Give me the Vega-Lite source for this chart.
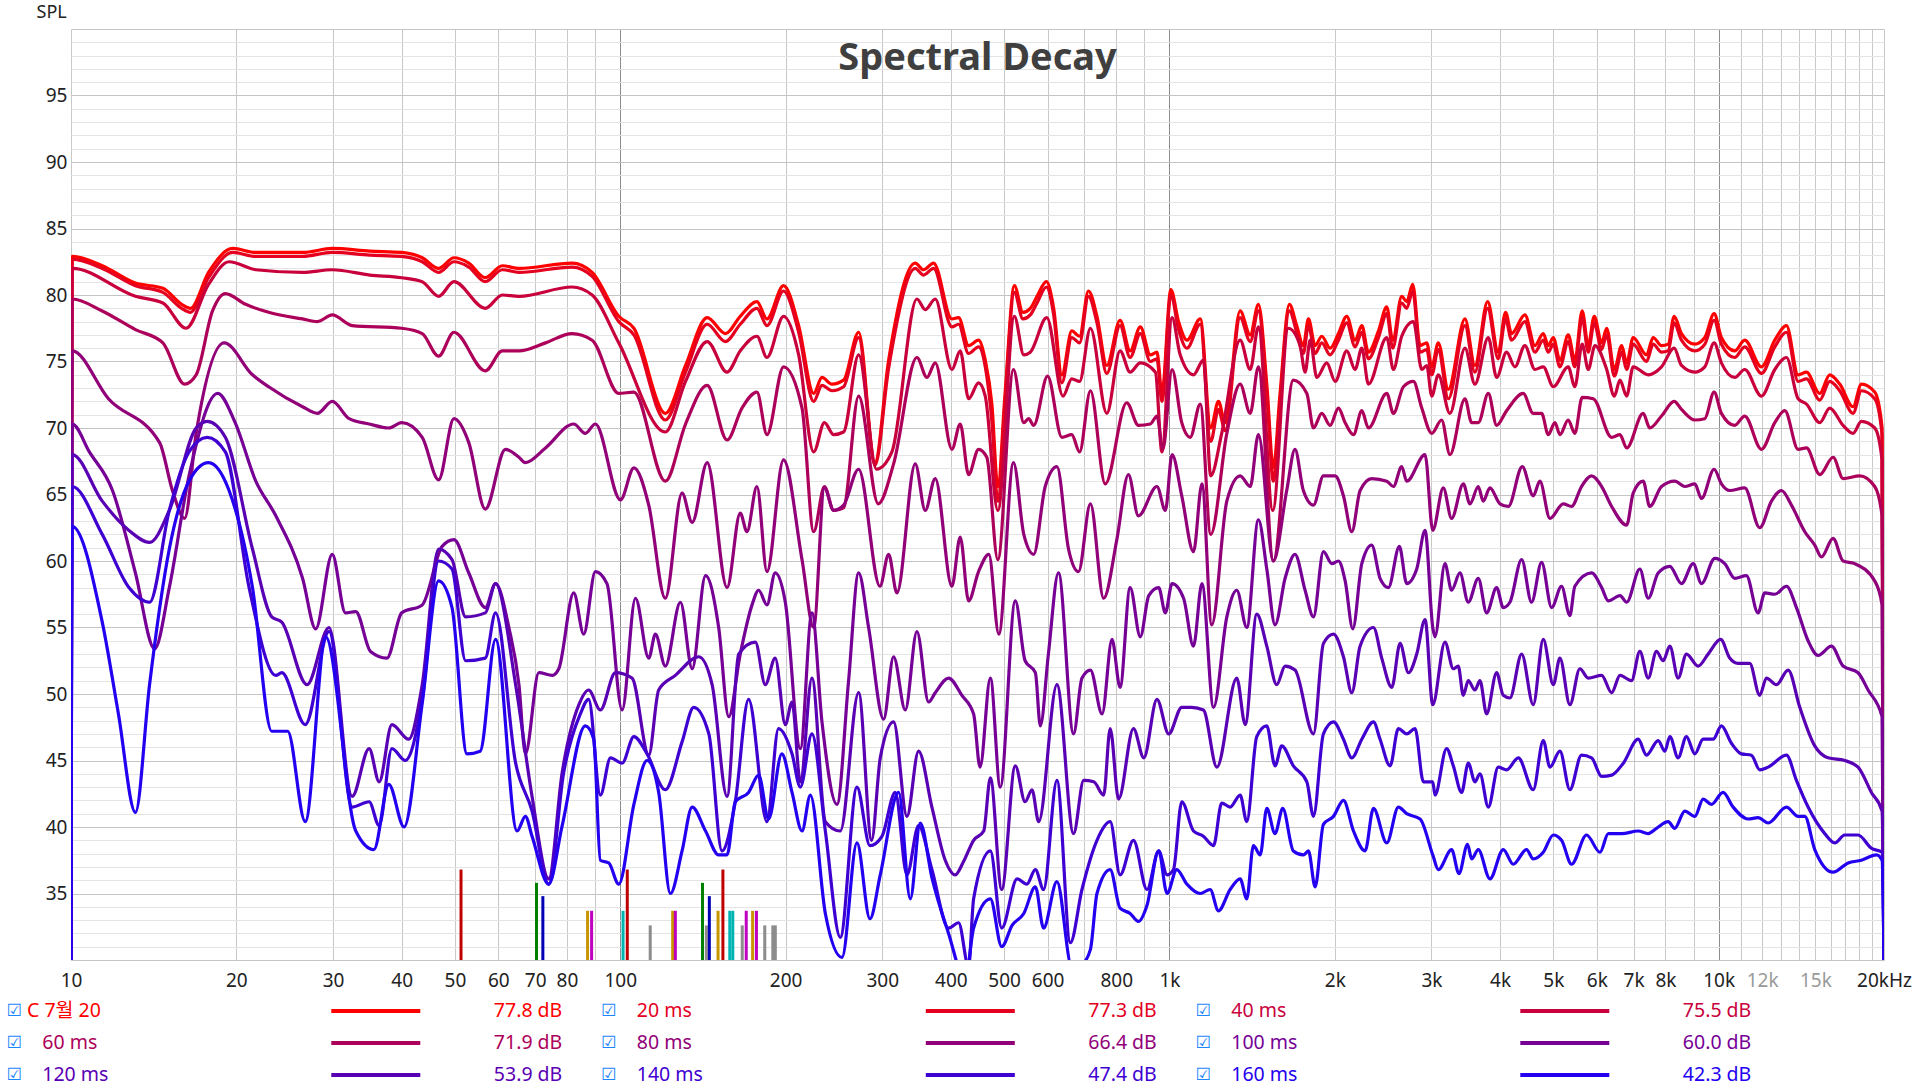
{
  "$schema": "https://vega.github.io/schema/vega-lite/v6.json",
  "background": "#ffffff",
  "padding": {"left": 6, "top": 3, "right": 4, "bottom": 12},
  "autosize": {"type": "pad"},
  "config": {"view": {"stroke": null}, "font": "Noto Sans", "axis": {"labelOverlap": false}},
  "spacing": 51,
  "bounds": "flush",
  "datasets": {
    "curves": [
{"t":0,"f":10,"v":30},{"t":0,"f":10.05,"v":82.9},{"t":0,"f":11.4,"v":82.2},{"t":0,"f":13.1,"v":80.9},{"t":0,"f":14.7,"v":80.5},{"t":0,"f":15.9,"v":79.3},{"t":0,"f":16.5,"v":79.0},{"t":0,"f":17.8,"v":81.7},{"t":0,"f":19.7,"v":83.5},{"t":0,"f":21.7,"v":83.2},{"t":0,"f":26.4,"v":83.2},{"t":0,"f":29.9,"v":83.5},{"t":0,"f":35,"v":83.3},{"t":0,"f":40,"v":83.2},{"t":0,"f":43.6,"v":82.8},{"t":0,"f":46.7,"v":82.0},{"t":0,"f":49.8,"v":82.8},{"t":0,"f":53,"v":82.4},{"t":0,"f":56.8,"v":81.3},{"t":0,"f":61,"v":82.2},{"t":0,"f":65.4,"v":82.0},{"t":0,"f":81.7,"v":82.4},{"t":0,"f":88.9,"v":81.7},{"t":0,"f":99.4,"v":78.4},{"t":0,"f":105.9,"v":77.5},{"t":0,"f":120.8,"v":71.1},{"t":0,"f":131.5,"v":74.7},{"t":0,"f":144,"v":78.3},{"t":0,"f":155.4,"v":77.1},{"t":0,"f":165.4,"v":78.4},{"t":0,"f":177.4,"v":79.5},{"t":0,"f":185,"v":78.2},{"t":0,"f":198.3,"v":80.7},{"t":0,"f":211.3,"v":77.7},{"t":0,"f":225,"v":72.6},{"t":0,"f":233,"v":73.8},{"t":0,"f":243,"v":73.3},{"t":0,"f":255.1,"v":73.6},{"t":0,"f":271.7,"v":77.2},{"t":0,"f":290.9,"v":67.4},{"t":0,"f":308.1,"v":75.1},{"t":0,"f":344.5,"v":82.4},{"t":0,"f":356.7,"v":81.9},{"t":0,"f":372,"v":82.4},{"t":0,"f":401.7,"v":78.2},{"t":0,"f":413.1,"v":78.3},{"t":0,"f":430.8,"v":76.2},{"t":0,"f":449.2,"v":76.6},{"t":0,"f":462,"v":75.1},{"t":0,"f":475,"v":71.8},{"t":0,"f":487,"v":65.6},{"t":0,"f":502,"v":72.6},{"t":0,"f":522,"v":80.7},{"t":0,"f":541,"v":78.7},{"t":0,"f":558,"v":79.0},{"t":0,"f":574,"v":79.9},{"t":0,"f":597,"v":81.0},{"t":0,"f":615,"v":79.1},{"t":0,"f":637,"v":74.0},{"t":0,"f":664,"v":77.3},{"t":0,"f":686,"v":76.9},{"t":0,"f":712,"v":80.3},{"t":0,"f":738,"v":78.4},{"t":0,"f":769,"v":74.7},{"t":0,"f":813,"v":78.1},{"t":0,"f":848,"v":75.8},{"t":0,"f":885,"v":77.6},{"t":0,"f":923,"v":75.5},{"t":0,"f":949,"v":75.7},{"t":0,"f":969,"v":72.6},{"t":0,"f":1006,"v":80.4},{"t":0,"f":1039,"v":78.0},{"t":0,"f":1076,"v":76.6},{"t":0,"f":1138,"v":78.2},{"t":0,"f":1189,"v":70.0},{"t":0,"f":1228,"v":72.0},{"t":0,"f":1263,"v":70.4},{"t":0,"f":1345,"v":78.8},{"t":0,"f":1403,"v":77.0},{"t":0,"f":1452,"v":79.3},{"t":0,"f":1504,"v":73.3},{"t":0,"f":1546,"v":67.0},{"t":0,"f":1590,"v":72.6},{"t":0,"f":1653,"v":79.3},{"t":0,"f":1705,"v":77.7},{"t":0,"f":1753,"v":76.2},{"t":0,"f":1791,"v":78.2},{"t":0,"f":1842,"v":76.2},{"t":0,"f":1894,"v":76.9},{"t":0,"f":1961,"v":76.0},{"t":0,"f":2031,"v":77.1},{"t":0,"f":2103,"v":78.4},{"t":0,"f":2178,"v":76.6},{"t":0,"f":2240,"v":77.7},{"t":0,"f":2303,"v":75.7},{"t":0,"f":2402,"v":77.3},{"t":0,"f":2487,"v":79.1},{"t":0,"f":2550,"v":76.6},{"t":0,"f":2648,"v":79.9},{"t":0,"f":2704,"v":79.5},{"t":0,"f":2773,"v":80.8},{"t":0,"f":2860,"v":76.2},{"t":0,"f":2941,"v":76.4},{"t":0,"f":3003,"v":74.6},{"t":0,"f":3087,"v":76.4},{"t":0,"f":3219,"v":72.9},{"t":0,"f":3452,"v":78.2},{"t":0,"f":3599,"v":74.7},{"t":0,"f":3796,"v":79.5},{"t":0,"f":3969,"v":75.7},{"t":0,"f":4092,"v":78.7},{"t":0,"f":4197,"v":77.1},{"t":0,"f":4438,"v":78.5},{"t":0,"f":4628,"v":76.2},{"t":0,"f":4793,"v":77.1},{"t":0,"f":4895,"v":76.2},{"t":0,"f":4999,"v":76.8},{"t":0,"f":5140,"v":75.1},{"t":0,"f":5322,"v":77.0},{"t":0,"f":5472,"v":75.1},{"t":0,"f":5643,"v":78.8},{"t":0,"f":5787,"v":76.2},{"t":0,"f":5935,"v":78.4},{"t":0,"f":6123,"v":76.4},{"t":0,"f":6253,"v":77.5},{"t":0,"f":6457,"v":74.4},{"t":0,"f":6659,"v":76.2},{"t":0,"f":6799,"v":74.9},{"t":0,"f":6988,"v":76.8},{"t":0,"f":7390,"v":75.5},{"t":0,"f":7598,"v":76.8},{"t":0,"f":7869,"v":76.2},{"t":0,"f":8092,"v":76.3},{"t":0,"f":8298,"v":78.4},{"t":0,"f":8556,"v":77.1},{"t":0,"f":9049,"v":76.3},{"t":0,"f":9435,"v":76.8},{"t":0,"f":9811,"v":78.6},{"t":0,"f":10115,"v":76.8},{"t":0,"f":10696,"v":75.8},{"t":0,"f":11154,"v":76.6},{"t":0,"f":11965,"v":74.6},{"t":0,"f":12653,"v":76.6},{"t":0,"f":13287,"v":77.7},{"t":0,"f":13953,"v":74.0},{"t":0,"f":14449,"v":74.2},{"t":0,"f":15278,"v":72.6},{"t":0,"f":15932,"v":74.0},{"t":0,"f":16614,"v":73.3},{"t":0,"f":17566,"v":71.6},{"t":0,"f":18192,"v":73.3},{"t":0,"f":19238,"v":72.7},{"t":0,"f":19838,"v":70.0},{"t":0,"f":20000,"v":30},
{"t":20,"f":10,"v":30},{"t":20,"f":10.05,"v":82.7},{"t":20,"f":11.4,"v":82.0},{"t":20,"f":13.1,"v":80.7},{"t":20,"f":14.7,"v":80.2},{"t":20,"f":15.9,"v":79.0},{"t":20,"f":16.5,"v":78.7},{"t":20,"f":17.8,"v":81.3},{"t":20,"f":19.7,"v":83.2},{"t":20,"f":21.7,"v":82.9},{"t":20,"f":26.4,"v":82.9},{"t":20,"f":29.9,"v":83.2},{"t":20,"f":35,"v":83.0},{"t":20,"f":40,"v":82.9},{"t":20,"f":43.6,"v":82.5},{"t":20,"f":46.7,"v":81.7},{"t":20,"f":49.8,"v":82.5},{"t":20,"f":53,"v":82.1},{"t":20,"f":56.8,"v":81.0},{"t":20,"f":61,"v":81.9},{"t":20,"f":65.4,"v":81.7},{"t":20,"f":81.7,"v":82.1},{"t":20,"f":88.9,"v":81.4},{"t":20,"f":99.4,"v":78.0},{"t":20,"f":105.9,"v":77.0},{"t":20,"f":120.8,"v":70.6},{"t":20,"f":131.5,"v":74.2},{"t":20,"f":144,"v":77.8},{"t":20,"f":155.4,"v":76.5},{"t":20,"f":165.4,"v":77.8},{"t":20,"f":177.4,"v":79.0},{"t":20,"f":185,"v":77.7},{"t":20,"f":198.3,"v":80.3},{"t":20,"f":211.3,"v":77.2},{"t":20,"f":225,"v":72.0},{"t":20,"f":233,"v":73.2},{"t":20,"f":243,"v":72.8},{"t":20,"f":255.1,"v":73.1},{"t":20,"f":271.7,"v":76.8},{"t":20,"f":290.9,"v":67.2},{"t":20,"f":308.1,"v":74.5},{"t":20,"f":344.5,"v":82.0},{"t":20,"f":356.7,"v":81.5},{"t":20,"f":372,"v":82.0},{"t":20,"f":401.7,"v":77.6},{"t":20,"f":413.1,"v":77.8},{"t":20,"f":430.8,"v":75.6},{"t":20,"f":449.2,"v":76.1},{"t":20,"f":462,"v":74.6},{"t":20,"f":475,"v":70.5},{"t":20,"f":487,"v":64.5},{"t":20,"f":502,"v":72.0},{"t":20,"f":522,"v":80.2},{"t":20,"f":541,"v":78.2},{"t":20,"f":558,"v":78.5},{"t":20,"f":574,"v":79.4},{"t":20,"f":597,"v":80.6},{"t":20,"f":615,"v":78.6},{"t":20,"f":637,"v":73.4},{"t":20,"f":664,"v":76.8},{"t":20,"f":686,"v":76.4},{"t":20,"f":712,"v":79.9},{"t":20,"f":738,"v":77.9},{"t":20,"f":769,"v":74.1},{"t":20,"f":813,"v":77.7},{"t":20,"f":848,"v":75.3},{"t":20,"f":885,"v":77.1},{"t":20,"f":923,"v":75.0},{"t":20,"f":949,"v":75.2},{"t":20,"f":969,"v":72.0},{"t":20,"f":1006,"v":80.0},{"t":20,"f":1039,"v":77.4},{"t":20,"f":1076,"v":76.0},{"t":20,"f":1138,"v":77.8},{"t":20,"f":1189,"v":69.0},{"t":20,"f":1228,"v":71.4},{"t":20,"f":1263,"v":69.8},{"t":20,"f":1345,"v":78.3},{"t":20,"f":1403,"v":76.5},{"t":20,"f":1452,"v":78.8},{"t":20,"f":1504,"v":72.6},{"t":20,"f":1546,"v":66.0},{"t":20,"f":1590,"v":72.0},{"t":20,"f":1653,"v":78.8},{"t":20,"f":1705,"v":77.2},{"t":20,"f":1753,"v":75.6},{"t":20,"f":1791,"v":77.7},{"t":20,"f":1842,"v":75.6},{"t":20,"f":1894,"v":76.4},{"t":20,"f":1961,"v":75.5},{"t":20,"f":2031,"v":76.6},{"t":20,"f":2103,"v":77.9},{"t":20,"f":2178,"v":76.1},{"t":20,"f":2240,"v":77.2},{"t":20,"f":2303,"v":75.2},{"t":20,"f":2402,"v":76.8},{"t":20,"f":2487,"v":78.6},{"t":20,"f":2550,"v":76.0},{"t":20,"f":2648,"v":79.4},{"t":20,"f":2704,"v":79.0},{"t":20,"f":2773,"v":80.3},{"t":20,"f":2860,"v":75.7},{"t":20,"f":2941,"v":75.9},{"t":20,"f":3003,"v":74.0},{"t":20,"f":3087,"v":75.9},{"t":20,"f":3219,"v":72.2},{"t":20,"f":3452,"v":77.7},{"t":20,"f":3599,"v":74.2},{"t":20,"f":3796,"v":79.0},{"t":20,"f":3969,"v":75.2},{"t":20,"f":4092,"v":78.2},{"t":20,"f":4197,"v":76.6},{"t":20,"f":4438,"v":78.0},{"t":20,"f":4628,"v":75.7},{"t":20,"f":4793,"v":76.6},{"t":20,"f":4895,"v":75.7},{"t":20,"f":4999,"v":76.3},{"t":20,"f":5140,"v":74.6},{"t":20,"f":5322,"v":76.5},{"t":20,"f":5472,"v":74.6},{"t":20,"f":5643,"v":78.3},{"t":20,"f":5787,"v":75.7},{"t":20,"f":5935,"v":77.9},{"t":20,"f":6123,"v":75.9},{"t":20,"f":6253,"v":77.0},{"t":20,"f":6457,"v":73.9},{"t":20,"f":6659,"v":75.7},{"t":20,"f":6799,"v":74.4},{"t":20,"f":6988,"v":76.3},{"t":20,"f":7390,"v":75.0},{"t":20,"f":7598,"v":76.3},{"t":20,"f":7869,"v":75.7},{"t":20,"f":8092,"v":75.8},{"t":20,"f":8298,"v":77.9},{"t":20,"f":8556,"v":76.6},{"t":20,"f":9049,"v":75.8},{"t":20,"f":9435,"v":76.3},{"t":20,"f":9811,"v":78.1},{"t":20,"f":10115,"v":76.3},{"t":20,"f":10696,"v":75.3},{"t":20,"f":11154,"v":76.1},{"t":20,"f":11965,"v":74.1},{"t":20,"f":12653,"v":76.1},{"t":20,"f":13287,"v":77.2},{"t":20,"f":13953,"v":73.5},{"t":20,"f":14449,"v":73.7},{"t":20,"f":15278,"v":72.1},{"t":20,"f":15932,"v":73.5},{"t":20,"f":16614,"v":72.8},{"t":20,"f":17566,"v":71.1},{"t":20,"f":18192,"v":72.8},{"t":20,"f":19238,"v":72.2},{"t":20,"f":19838,"v":69.5},{"t":20,"f":20000,"v":30},
{"t":40,"f":10,"v":30},{"t":40,"f":10.05,"v":82.0},{"t":40,"f":13.1,"v":79.9},{"t":40,"f":14.7,"v":79.4},{"t":40,"f":16.2,"v":77.5},{"t":40,"f":17.8,"v":80.8},{"t":40,"f":19.4,"v":82.5},{"t":40,"f":21.7,"v":81.9},{"t":40,"f":26.4,"v":81.7},{"t":40,"f":29.9,"v":81.9},{"t":40,"f":35,"v":81.5},{"t":40,"f":40,"v":81.3},{"t":40,"f":43.6,"v":81.0},{"t":40,"f":46.7,"v":79.9},{"t":40,"f":49.8,"v":81.0},{"t":40,"f":56.8,"v":79.0},{"t":40,"f":61,"v":80.0},{"t":40,"f":65.4,"v":79.9},{"t":40,"f":81.7,"v":80.6},{"t":40,"f":88.9,"v":80.0},{"t":40,"f":99.4,"v":76.4},{"t":40,"f":120.8,"v":69.7},{"t":40,"f":131.5,"v":73.5},{"t":40,"f":144,"v":76.5},{"t":40,"f":156.5,"v":74.2},{"t":40,"f":165.4,"v":75.8},{"t":40,"f":177.4,"v":76.9},{"t":40,"f":185,"v":75.3},{"t":40,"f":198.3,"v":78.4},{"t":40,"f":211.3,"v":75.5},{"t":40,"f":225,"v":68.2},{"t":40,"f":235.4,"v":70.4},{"t":40,"f":244.7,"v":69.5},{"t":40,"f":255.1,"v":69.7},{"t":40,"f":271.7,"v":75.5},{"t":40,"f":292.9,"v":66.9},{"t":40,"f":312.4,"v":68.2},{"t":40,"f":346.9,"v":79.7},{"t":40,"f":359.2,"v":78.9},{"t":40,"f":374.6,"v":79.7},{"t":40,"f":401.7,"v":74.4},{"t":40,"f":416,"v":75.8},{"t":40,"f":430.8,"v":72.2},{"t":40,"f":449.2,"v":73.4},{"t":40,"f":462,"v":72.4},{"t":40,"f":487,"v":63.8},{"t":40,"f":522,"v":78.4},{"t":40,"f":543,"v":75.5},{"t":40,"f":558,"v":75.7},{"t":40,"f":598,"v":78.3},{"t":40,"f":640,"v":72.4},{"t":40,"f":664,"v":73.7},{"t":40,"f":686,"v":73.5},{"t":40,"f":718,"v":77.5},{"t":40,"f":769,"v":71.1},{"t":40,"f":813,"v":75.8},{"t":40,"f":848,"v":74.2},{"t":40,"f":885,"v":74.9},{"t":40,"f":943,"v":74.2},{"t":40,"f":969,"v":68.2},{"t":40,"f":1011,"v":78.3},{"t":40,"f":1046,"v":75.5},{"t":40,"f":1106,"v":74.0},{"t":40,"f":1153,"v":75.1},{"t":40,"f":1189,"v":66.4},{"t":40,"f":1245,"v":69.6},{"t":40,"f":1345,"v":76.6},{"t":40,"f":1403,"v":74.4},{"t":40,"f":1452,"v":77.6},{"t":40,"f":1542,"v":63.8},{"t":40,"f":1646,"v":77.5},{"t":40,"f":1729,"v":76.2},{"t":40,"f":1766,"v":74.2},{"t":40,"f":1804,"v":76.6},{"t":40,"f":1855,"v":73.8},{"t":40,"f":1934,"v":74.9},{"t":40,"f":2003,"v":73.5},{"t":40,"f":2103,"v":75.8},{"t":40,"f":2178,"v":74.4},{"t":40,"f":2240,"v":76.0},{"t":40,"f":2303,"v":73.3},{"t":40,"f":2487,"v":76.8},{"t":40,"f":2557,"v":74.4},{"t":40,"f":2648,"v":76.9},{"t":40,"f":2781,"v":78.0},{"t":40,"f":2880,"v":74.4},{"t":40,"f":2941,"v":74.7},{"t":40,"f":3003,"v":72.4},{"t":40,"f":3087,"v":74.0},{"t":40,"f":3241,"v":71.1},{"t":40,"f":3452,"v":76.0},{"t":40,"f":3599,"v":73.3},{"t":40,"f":3807,"v":76.8},{"t":40,"f":3942,"v":73.8},{"t":40,"f":4110,"v":75.7},{"t":40,"f":4256,"v":74.6},{"t":40,"f":4438,"v":76.2},{"t":40,"f":4628,"v":74.4},{"t":40,"f":4793,"v":74.6},{"t":40,"f":4999,"v":73.1},{"t":40,"f":5322,"v":74.6},{"t":40,"f":5472,"v":73.1},{"t":40,"f":5643,"v":76.3},{"t":40,"f":5787,"v":74.4},{"t":40,"f":5954,"v":76.2},{"t":40,"f":6253,"v":74.4},{"t":40,"f":6457,"v":72.4},{"t":40,"f":6612,"v":73.6},{"t":40,"f":6799,"v":72.4},{"t":40,"f":6988,"v":74.6},{"t":40,"f":7442,"v":74.0},{"t":40,"f":7869,"v":74.6},{"t":40,"f":8298,"v":76.0},{"t":40,"f":8556,"v":74.7},{"t":40,"f":9049,"v":74.2},{"t":40,"f":9435,"v":74.6},{"t":40,"f":9811,"v":76.4},{"t":40,"f":10115,"v":74.9},{"t":40,"f":10696,"v":73.8},{"t":40,"f":11154,"v":74.4},{"t":40,"f":11965,"v":72.4},{"t":40,"f":12653,"v":74.4},{"t":40,"f":13287,"v":75.3},{"t":40,"f":13953,"v":72.2},{"t":40,"f":14449,"v":71.8},{"t":40,"f":15278,"v":70.4},{"t":40,"f":15932,"v":71.5},{"t":40,"f":16847,"v":70.2},{"t":40,"f":17566,"v":69.6},{"t":40,"f":18192,"v":70.5},{"t":40,"f":19238,"v":70.0},{"t":40,"f":19838,"v":67.6},{"t":40,"f":20000,"v":30},
{"t":60,"f":10,"v":30},{"t":60,"f":10.05,"v":79.7},{"t":60,"f":11.4,"v":78.8},{"t":60,"f":13.1,"v":77.4},{"t":60,"f":14.7,"v":76.4},{"t":60,"f":16.1,"v":73.3},{"t":60,"f":16.9,"v":74.0},{"t":60,"f":18.1,"v":78.8},{"t":60,"f":19.1,"v":80.1},{"t":60,"f":20.8,"v":79.3},{"t":60,"f":22.9,"v":78.7},{"t":60,"f":26.4,"v":78.2},{"t":60,"f":28.1,"v":78.0},{"t":60,"f":29.9,"v":78.5},{"t":60,"f":32.5,"v":77.7},{"t":60,"f":40,"v":77.5},{"t":60,"f":43.6,"v":77.1},{"t":60,"f":46.7,"v":75.4},{"t":60,"f":49.8,"v":77.2},{"t":60,"f":56.8,"v":74.3},{"t":60,"f":61,"v":75.8},{"t":60,"f":65.4,"v":75.8},{"t":60,"f":73.1,"v":76.4},{"t":60,"f":81.7,"v":77.1},{"t":60,"f":88.9,"v":76.6},{"t":60,"f":99.4,"v":72.6},{"t":60,"f":105.9,"v":72.7},{"t":60,"f":120.8,"v":66.0},{"t":60,"f":131.5,"v":70.3},{"t":60,"f":144,"v":73.2},{"t":60,"f":156.5,"v":69.1},{"t":60,"f":166.6,"v":71.5},{"t":60,"f":177.4,"v":72.7},{"t":60,"f":185,"v":69.5},{"t":60,"f":198.3,"v":74.6},{"t":60,"f":214.3,"v":71.5},{"t":60,"f":225,"v":62.2},{"t":60,"f":235.4,"v":65.6},{"t":60,"f":244.7,"v":63.8},{"t":60,"f":255.1,"v":64.0},{"t":60,"f":271.7,"v":72.4},{"t":60,"f":295,"v":64.3},{"t":60,"f":314.6,"v":67.3},{"t":60,"f":346.9,"v":75.3},{"t":60,"f":361.8,"v":73.8},{"t":60,"f":374.6,"v":74.9},{"t":60,"f":401.7,"v":68.4},{"t":60,"f":416,"v":70.3},{"t":60,"f":430.8,"v":66.5},{"t":60,"f":449.2,"v":68.4},{"t":60,"f":465,"v":67.8},{"t":60,"f":487,"v":60.1},{"t":60,"f":520,"v":74.4},{"t":60,"f":543,"v":70.4},{"t":60,"f":554,"v":70.7},{"t":60,"f":566,"v":70.2},{"t":60,"f":600,"v":73.9},{"t":60,"f":637,"v":69.3},{"t":60,"f":664,"v":69.5},{"t":60,"f":686,"v":68.2},{"t":60,"f":718,"v":72.8},{"t":60,"f":764,"v":65.8},{"t":60,"f":836,"v":71.9},{"t":60,"f":878,"v":70.2},{"t":60,"f":923,"v":70.3},{"t":60,"f":949,"v":70.9},{"t":60,"f":973,"v":68.4},{"t":60,"f":1011,"v":74.4},{"t":60,"f":1053,"v":70.4},{"t":60,"f":1091,"v":69.3},{"t":60,"f":1138,"v":71.8},{"t":60,"f":1189,"v":62.0},{"t":60,"f":1272,"v":69.6},{"t":60,"f":1345,"v":73.3},{"t":60,"f":1403,"v":71.1},{"t":60,"f":1452,"v":74.6},{"t":60,"f":1546,"v":60.0},{"t":60,"f":1681,"v":73.6},{"t":60,"f":1779,"v":72.6},{"t":60,"f":1829,"v":70.0},{"t":60,"f":1894,"v":71.1},{"t":60,"f":1961,"v":70.2},{"t":60,"f":2031,"v":71.5},{"t":60,"f":2089,"v":70.4},{"t":60,"f":2163,"v":69.5},{"t":60,"f":2240,"v":71.3},{"t":60,"f":2303,"v":70.0},{"t":60,"f":2487,"v":72.6},{"t":60,"f":2557,"v":71.1},{"t":60,"f":2667,"v":73.1},{"t":60,"f":2781,"v":73.5},{"t":60,"f":2880,"v":71.5},{"t":60,"f":3003,"v":69.6},{"t":60,"f":3130,"v":70.6},{"t":60,"f":3241,"v":68.0},{"t":60,"f":3452,"v":72.2},{"t":60,"f":3550,"v":70.4},{"t":60,"f":3650,"v":70.4},{"t":60,"f":3807,"v":72.6},{"t":60,"f":3942,"v":70.2},{"t":60,"f":4110,"v":71.3},{"t":60,"f":4407,"v":72.6},{"t":60,"f":4596,"v":71.1},{"t":60,"f":4760,"v":71.1},{"t":60,"f":4895,"v":69.5},{"t":60,"f":5033,"v":70.4},{"t":60,"f":5140,"v":69.5},{"t":60,"f":5322,"v":70.6},{"t":60,"f":5472,"v":69.6},{"t":60,"f":5643,"v":72.3},{"t":60,"f":5910,"v":72.2},{"t":60,"f":6385,"v":69.3},{"t":60,"f":6612,"v":69.5},{"t":60,"f":6799,"v":68.5},{"t":60,"f":7287,"v":71.1},{"t":60,"f":7492,"v":70.0},{"t":60,"f":7869,"v":70.9},{"t":60,"f":8298,"v":72.0},{"t":60,"f":8556,"v":71.4},{"t":60,"f":9049,"v":70.6},{"t":60,"f":9435,"v":70.7},{"t":60,"f":9811,"v":72.7},{"t":60,"f":10115,"v":71.1},{"t":60,"f":10696,"v":70.2},{"t":60,"f":11154,"v":70.9},{"t":60,"f":11965,"v":68.4},{"t":60,"f":12653,"v":70.4},{"t":60,"f":13194,"v":71.3},{"t":60,"f":13953,"v":68.4},{"t":60,"f":14449,"v":68.5},{"t":60,"f":15278,"v":66.5},{"t":60,"f":16156,"v":67.8},{"t":60,"f":16847,"v":66.2},{"t":60,"f":18066,"v":66.4},{"t":60,"f":19238,"v":65.6},{"t":60,"f":19838,"v":63.4},{"t":60,"f":20000,"v":30},
{"t":80,"f":10,"v":30},{"t":80,"f":10.05,"v":75.8},{"t":80,"f":11.7,"v":72.2},{"t":80,"f":14.5,"v":68.9},{"t":80,"f":15.3,"v":65.3},{"t":80,"f":16.1,"v":63.2},{"t":80,"f":16.9,"v":69.6},{"t":80,"f":19,"v":76.4},{"t":80,"f":21.4,"v":74.0},{"t":80,"f":22.9,"v":73.1},{"t":80,"f":26.4,"v":71.6},{"t":80,"f":28.1,"v":71.1},{"t":80,"f":29.9,"v":72.0},{"t":80,"f":32.1,"v":70.7},{"t":80,"f":34.9,"v":70.3},{"t":80,"f":37.9,"v":70.0},{"t":80,"f":40,"v":70.4},{"t":80,"f":43.6,"v":69.3},{"t":80,"f":46.7,"v":66.1},{"t":80,"f":49.8,"v":70.7},{"t":80,"f":53,"v":68.9},{"t":80,"f":56.8,"v":63.9},{"t":80,"f":61.8,"v":68.4},{"t":80,"f":65.4,"v":67.8},{"t":80,"f":67.2,"v":67.4},{"t":80,"f":73.1,"v":68.5},{"t":80,"f":82.3,"v":70.3},{"t":80,"f":86.4,"v":69.6},{"t":80,"f":90.1,"v":70.3},{"t":80,"f":100.1,"v":64.6},{"t":80,"f":105.9,"v":67.0},{"t":80,"f":112.7,"v":64.2},{"t":80,"f":120.8,"v":57.2},{"t":80,"f":129.6,"v":65.1},{"t":80,"f":135.2,"v":62.9},{"t":80,"f":144,"v":67.4},{"t":80,"f":156.5,"v":58.0},{"t":80,"f":165.4,"v":63.6},{"t":80,"f":170.1,"v":62.2},{"t":80,"f":177.4,"v":65.6},{"t":80,"f":185,"v":59.2},{"t":80,"f":198.3,"v":67.6},{"t":80,"f":214.3,"v":60.1},{"t":80,"f":225,"v":55.0},{"t":80,"f":235.4,"v":65.5},{"t":80,"f":244.7,"v":63.8},{"t":80,"f":255.1,"v":64.2},{"t":80,"f":271.7,"v":66.9},{"t":80,"f":297.1,"v":58.1},{"t":80,"f":308.1,"v":60.5},{"t":80,"f":319,"v":57.6},{"t":80,"f":344.5,"v":67.3},{"t":80,"f":359.2,"v":63.8},{"t":80,"f":374.6,"v":66.2},{"t":80,"f":401.7,"v":58.1},{"t":80,"f":416,"v":61.8},{"t":80,"f":430.8,"v":57.0},{"t":80,"f":449.2,"v":59.2},{"t":80,"f":469,"v":60.5},{"t":80,"f":489,"v":54.5},{"t":80,"f":520,"v":67.4},{"t":80,"f":543,"v":62.0},{"t":80,"f":566,"v":60.5},{"t":80,"f":594,"v":65.6},{"t":80,"f":624,"v":67.1},{"t":80,"f":655,"v":60.9},{"t":80,"f":683,"v":59.2},{"t":80,"f":718,"v":64.3},{"t":80,"f":759,"v":57.2},{"t":80,"f":802,"v":61.6},{"t":80,"f":842,"v":66.5},{"t":80,"f":878,"v":63.4},{"t":80,"f":949,"v":65.6},{"t":80,"f":983,"v":63.8},{"t":80,"f":1011,"v":68.0},{"t":80,"f":1053,"v":64.9},{"t":80,"f":1106,"v":60.7},{"t":80,"f":1146,"v":65.8},{"t":80,"f":1194,"v":55.2},{"t":80,"f":1272,"v":64.5},{"t":80,"f":1345,"v":66.4},{"t":80,"f":1403,"v":65.6},{"t":80,"f":1452,"v":69.5},{"t":80,"f":1546,"v":60.0},{"t":80,"f":1635,"v":65.3},{"t":80,"f":1693,"v":68.4},{"t":80,"f":1753,"v":65.3},{"t":80,"f":1829,"v":64.2},{"t":80,"f":1907,"v":66.4},{"t":80,"f":2003,"v":66.4},{"t":80,"f":2074,"v":64.9},{"t":80,"f":2148,"v":62.2},{"t":80,"f":2224,"v":65.3},{"t":80,"f":2335,"v":66.2},{"t":80,"f":2487,"v":66.0},{"t":80,"f":2557,"v":65.6},{"t":80,"f":2648,"v":67.1},{"t":80,"f":2704,"v":66.0},{"t":80,"f":2920,"v":68.0},{"t":80,"f":3016,"v":62.3},{"t":80,"f":3152,"v":65.5},{"t":80,"f":3264,"v":63.2},{"t":80,"f":3428,"v":65.8},{"t":80,"f":3525,"v":64.3},{"t":80,"f":3650,"v":65.6},{"t":80,"f":3727,"v":64.5},{"t":80,"f":3833,"v":65.5},{"t":80,"f":3997,"v":64.3},{"t":80,"f":4139,"v":64.1},{"t":80,"f":4390,"v":67.1},{"t":80,"f":4596,"v":64.9},{"t":80,"f":4726,"v":66.0},{"t":80,"f":4929,"v":63.2},{"t":80,"f":5212,"v":64.3},{"t":80,"f":5397,"v":64.1},{"t":80,"f":5627,"v":65.6},{"t":80,"f":5869,"v":66.4},{"t":80,"f":6123,"v":65.6},{"t":80,"f":6385,"v":64.1},{"t":80,"f":6799,"v":62.7},{"t":80,"f":6988,"v":65.1},{"t":80,"f":7287,"v":66.0},{"t":80,"f":7492,"v":64.1},{"t":80,"f":7869,"v":65.6},{"t":80,"f":8318,"v":66.0},{"t":80,"f":8676,"v":65.6},{"t":80,"f":9049,"v":65.8},{"t":80,"f":9305,"v":64.7},{"t":80,"f":9811,"v":66.9},{"t":80,"f":10115,"v":65.8},{"t":80,"f":10474,"v":65.3},{"t":80,"f":11154,"v":65.5},{"t":80,"f":11878,"v":62.5},{"t":80,"f":12478,"v":64.5},{"t":80,"f":13011,"v":65.3},{"t":80,"f":13568,"v":64.2},{"t":80,"f":14348,"v":62.2},{"t":80,"f":14961,"v":61.2},{"t":80,"f":15385,"v":60.3},{"t":80,"f":16156,"v":61.7},{"t":80,"f":16847,"v":60.0},{"t":80,"f":17691,"v":59.8},{"t":80,"f":19238,"v":58.5},{"t":80,"f":19838,"v":56.7},{"t":80,"f":20000,"v":30},
{"t":100,"f":10,"v":30},{"t":100,"f":10.05,"v":70.3},{"t":100,"f":10.8,"v":68.2},{"t":100,"f":11.9,"v":65.3},{"t":100,"f":13.1,"v":59.1},{"t":100,"f":14.2,"v":53.4},{"t":100,"f":15.1,"v":58.0},{"t":100,"f":16.4,"v":66.4},{"t":100,"f":18.5,"v":72.6},{"t":100,"f":19.9,"v":70.4},{"t":100,"f":21.7,"v":66.0},{"t":100,"f":23.6,"v":63.4},{"t":100,"f":26.4,"v":58.7},{"t":100,"f":27.9,"v":54.9},{"t":100,"f":29.9,"v":60.5},{"t":100,"f":31.6,"v":56.1},{"t":100,"f":33,"v":56.2},{"t":100,"f":35.1,"v":53.2},{"t":100,"f":37.6,"v":52.7},{"t":100,"f":40,"v":56.1},{"t":100,"f":43.6,"v":56.7},{"t":100,"f":47.4,"v":61.1},{"t":100,"f":49.8,"v":61.6},{"t":100,"f":53,"v":59.1},{"t":100,"f":56.8,"v":56.5},{"t":100,"f":59.3,"v":58.3},{"t":100,"f":62.7,"v":55.0},{"t":100,"f":65.4,"v":50.7},{"t":100,"f":67.2,"v":45.5},{"t":100,"f":71.1,"v":51.6},{"t":100,"f":75.2,"v":51.4},{"t":100,"f":77.3,"v":51.9},{"t":100,"f":82.3,"v":57.6},{"t":100,"f":85.8,"v":54.5},{"t":100,"f":90.1,"v":59.2},{"t":100,"f":94.6,"v":58.3},{"t":100,"f":100.8,"v":48.8},{"t":100,"f":106.6,"v":57.2},{"t":100,"f":112.7,"v":52.7},{"t":100,"f":115.9,"v":54.5},{"t":100,"f":120.8,"v":52.1},{"t":100,"f":128.7,"v":56.9},{"t":100,"f":135.2,"v":51.9},{"t":100,"f":143,"v":58.9},{"t":100,"f":151.1,"v":55.0},{"t":100,"f":157.6,"v":48.3},{"t":100,"f":165.4,"v":53.0},{"t":100,"f":173.8,"v":56.7},{"t":100,"f":178.7,"v":57.8},{"t":100,"f":185,"v":56.7},{"t":100,"f":191.5,"v":59.1},{"t":100,"f":199.8,"v":56.9},{"t":100,"f":212.8,"v":45.9},{"t":100,"f":223.4,"v":56.1},{"t":100,"f":233,"v":47.9},{"t":100,"f":248.1,"v":41.7},{"t":100,"f":260.5,"v":51.0},{"t":100,"f":271.7,"v":59.1},{"t":100,"f":283.3,"v":55.0},{"t":100,"f":301.7,"v":48.1},{"t":100,"f":314.6,"v":52.8},{"t":100,"f":330.4,"v":48.8},{"t":100,"f":346.9,"v":54.7},{"t":100,"f":364.3,"v":49.4},{"t":100,"f":374.6,"v":50.1},{"t":100,"f":396.1,"v":51.2},{"t":100,"f":418.9,"v":49.9},{"t":100,"f":440,"v":48.5},{"t":100,"f":452,"v":44.5},{"t":100,"f":472,"v":51.2},{"t":100,"f":492,"v":43.0},{"t":100,"f":524,"v":57.0},{"t":100,"f":546,"v":52.5},{"t":100,"f":570,"v":51.6},{"t":100,"f":582,"v":47.6},{"t":100,"f":602,"v":53.0},{"t":100,"f":628,"v":59.1},{"t":100,"f":669,"v":47.0},{"t":100,"f":693,"v":51.2},{"t":100,"f":718,"v":51.8},{"t":100,"f":754,"v":48.5},{"t":100,"f":786,"v":54.1},{"t":100,"f":813,"v":50.5},{"t":100,"f":848,"v":58.0},{"t":100,"f":885,"v":54.3},{"t":100,"f":917,"v":57.4},{"t":100,"f":956,"v":58.0},{"t":100,"f":983,"v":56.1},{"t":100,"f":1011,"v":58.3},{"t":100,"f":1061,"v":57.2},{"t":100,"f":1106,"v":53.6},{"t":100,"f":1146,"v":58.3},{"t":100,"f":1203,"v":49.0},{"t":100,"f":1272,"v":55.8},{"t":100,"f":1326,"v":57.8},{"t":100,"f":1383,"v":55.0},{"t":100,"f":1452,"v":63.1},{"t":100,"f":1504,"v":59.4},{"t":100,"f":1557,"v":55.2},{"t":100,"f":1624,"v":58.7},{"t":100,"f":1693,"v":60.5},{"t":100,"f":1766,"v":57.8},{"t":100,"f":1829,"v":55.8},{"t":100,"f":1907,"v":60.7},{"t":100,"f":1975,"v":59.8},{"t":100,"f":2031,"v":60.0},{"t":100,"f":2089,"v":58.5},{"t":100,"f":2157,"v":54.9},{"t":100,"f":2240,"v":59.8},{"t":100,"f":2335,"v":61.2},{"t":100,"f":2418,"v":58.7},{"t":100,"f":2504,"v":58.0},{"t":100,"f":2622,"v":61.1},{"t":100,"f":2704,"v":58.3},{"t":100,"f":2820,"v":59.4},{"t":100,"f":2920,"v":62.3},{"t":100,"f":3016,"v":55.0},{"t":100,"f":3044,"v":54.3},{"t":100,"f":3174,"v":59.8},{"t":100,"f":3264,"v":57.8},{"t":100,"f":3380,"v":59.1},{"t":100,"f":3500,"v":56.9},{"t":100,"f":3650,"v":58.7},{"t":100,"f":3780,"v":56.1},{"t":100,"f":3942,"v":58.0},{"t":100,"f":4053,"v":56.5},{"t":100,"f":4168,"v":56.9},{"t":100,"f":4378,"v":60.1},{"t":100,"f":4564,"v":56.9},{"t":100,"f":4760,"v":59.9},{"t":100,"f":4964,"v":56.5},{"t":100,"f":5175,"v":58.1},{"t":100,"f":5359,"v":55.9},{"t":100,"f":5472,"v":58.1},{"t":100,"f":5869,"v":59.1},{"t":100,"f":6123,"v":58.0},{"t":100,"f":6296,"v":57.0},{"t":100,"f":6612,"v":57.4},{"t":100,"f":6799,"v":56.9},{"t":100,"f":7186,"v":59.4},{"t":100,"f":7442,"v":57.2},{"t":100,"f":7760,"v":59.1},{"t":100,"f":8149,"v":59.6},{"t":100,"f":8556,"v":58.3},{"t":100,"f":8987,"v":59.8},{"t":100,"f":9305,"v":58.3},{"t":100,"f":9839,"v":60.2},{"t":100,"f":10257,"v":59.8},{"t":100,"f":10696,"v":58.7},{"t":100,"f":11232,"v":58.9},{"t":100,"f":11796,"v":56.1},{"t":100,"f":12134,"v":57.6},{"t":100,"f":12653,"v":57.5},{"t":100,"f":13287,"v":58.1},{"t":100,"f":13855,"v":56.5},{"t":100,"f":14549,"v":54.0},{"t":100,"f":15172,"v":52.9},{"t":100,"f":16043,"v":53.6},{"t":100,"f":16847,"v":52.1},{"t":100,"f":17940,"v":51.6},{"t":100,"f":18708,"v":50.3},{"t":100,"f":19838,"v":48.3},{"t":100,"f":20000,"v":30},
{"t":120,"f":10,"v":30},{"t":120,"f":10.05,"v":68.0},{"t":120,"f":11.4,"v":64.5},{"t":120,"f":12.75,"v":62.3},{"t":120,"f":13.9,"v":61.4},{"t":120,"f":15.1,"v":63.8},{"t":120,"f":16.9,"v":70.0},{"t":120,"f":17.7,"v":70.5},{"t":120,"f":19.1,"v":69.3},{"t":120,"f":21.4,"v":60.9},{"t":120,"f":23.2,"v":55.8},{"t":120,"f":24.2,"v":55.4},{"t":120,"f":26.9,"v":50.7},{"t":120,"f":29.5,"v":55.0},{"t":120,"f":32.5,"v":42.3},{"t":120,"f":34.9,"v":45.9},{"t":120,"f":36.4,"v":43.4},{"t":120,"f":38.4,"v":47.7},{"t":120,"f":41.2,"v":46.6},{"t":120,"f":43.6,"v":50.7},{"t":120,"f":46.7,"v":60.9},{"t":120,"f":49.4,"v":60.1},{"t":120,"f":52.3,"v":55.8},{"t":120,"f":56.8,"v":56.1},{"t":120,"f":59.3,"v":58.3},{"t":120,"f":64.5,"v":50.7},{"t":120,"f":69.1,"v":42.3},{"t":120,"f":74.1,"v":36.1},{"t":120,"f":78.4,"v":44.1},{"t":120,"f":84.1,"v":49.2},{"t":120,"f":87.6,"v":50.3},{"t":120,"f":92,"v":48.8},{"t":120,"f":98,"v":51.6},{"t":120,"f":105.1,"v":51.2},{"t":120,"f":112.7,"v":45.4},{"t":120,"f":117.5,"v":50.3},{"t":120,"f":126,"v":51.4},{"t":120,"f":139,"v":52.8},{"t":120,"f":147,"v":50.7},{"t":120,"f":156.5,"v":42.3},{"t":120,"f":164.3,"v":53.0},{"t":120,"f":176.2,"v":53.9},{"t":120,"f":183.7,"v":50.7},{"t":120,"f":191.5,"v":52.7},{"t":120,"f":199.8,"v":47.7},{"t":120,"f":205.5,"v":49.4},{"t":120,"f":212.8,"v":43.4},{"t":120,"f":223.4,"v":51.2},{"t":120,"f":236.3,"v":40.4},{"t":120,"f":251.6,"v":39.7},{"t":120,"f":271.7,"v":50.1},{"t":120,"f":286.9,"v":39.0},{"t":120,"f":297.5,"v":45.2},{"t":120,"f":314.6,"v":47.9},{"t":120,"f":332.7,"v":40.8},{"t":120,"f":349.3,"v":45.7},{"t":120,"f":369.4,"v":41.5},{"t":120,"f":390.6,"v":37.5},{"t":120,"f":407.4,"v":36.4},{"t":120,"f":421.8,"v":37.4},{"t":120,"f":440,"v":39.0},{"t":120,"f":459,"v":39.7},{"t":120,"f":472,"v":43.7},{"t":120,"f":495,"v":35.3},{"t":120,"f":524,"v":44.6},{"t":120,"f":546,"v":41.9},{"t":120,"f":562,"v":42.8},{"t":120,"f":578,"v":40.4},{"t":120,"f":624,"v":50.7},{"t":120,"f":669,"v":39.5},{"t":120,"f":698,"v":43.5},{"t":120,"f":728,"v":43.4},{"t":120,"f":759,"v":42.4},{"t":120,"f":780,"v":47.4},{"t":120,"f":808,"v":42.1},{"t":120,"f":860,"v":47.4},{"t":120,"f":898,"v":45.2},{"t":120,"f":949,"v":49.6},{"t":120,"f":997,"v":47.0},{"t":120,"f":1053,"v":49.0},{"t":120,"f":1098,"v":49.0},{"t":120,"f":1153,"v":48.8},{"t":120,"f":1220,"v":44.5},{"t":120,"f":1326,"v":51.2},{"t":120,"f":1374,"v":47.7},{"t":120,"f":1442,"v":56.0},{"t":120,"f":1504,"v":53.6},{"t":120,"f":1568,"v":50.7},{"t":120,"f":1624,"v":52.1},{"t":120,"f":1693,"v":51.8},{"t":120,"f":1829,"v":47.0},{"t":120,"f":1907,"v":53.8},{"t":120,"f":1989,"v":54.5},{"t":120,"f":2074,"v":52.8},{"t":120,"f":2148,"v":50.1},{"t":120,"f":2224,"v":53.6},{"t":120,"f":2352,"v":55.0},{"t":120,"f":2435,"v":52.7},{"t":120,"f":2540,"v":50.5},{"t":120,"f":2630,"v":53.8},{"t":120,"f":2723,"v":51.6},{"t":120,"f":2820,"v":53.0},{"t":120,"f":2920,"v":55.6},{"t":120,"f":3016,"v":49.2},{"t":120,"f":3174,"v":53.9},{"t":120,"f":3287,"v":51.9},{"t":120,"f":3356,"v":52.1},{"t":120,"f":3428,"v":49.9},{"t":120,"f":3500,"v":51.0},{"t":120,"f":3599,"v":50.3},{"t":120,"f":3676,"v":51.0},{"t":120,"f":3780,"v":48.5},{"t":120,"f":3942,"v":51.6},{"t":120,"f":4053,"v":49.9},{"t":120,"f":4168,"v":49.7},{"t":120,"f":4378,"v":53.0},{"t":120,"f":4596,"v":49.2},{"t":120,"f":4793,"v":54.1},{"t":120,"f":4999,"v":50.7},{"t":120,"f":5140,"v":52.7},{"t":120,"f":5359,"v":49.2},{"t":120,"f":5588,"v":51.9},{"t":120,"f":5787,"v":51.2},{"t":120,"f":6123,"v":51.4},{"t":120,"f":6385,"v":50.1},{"t":120,"f":6612,"v":51.4},{"t":120,"f":6939,"v":51.0},{"t":120,"f":7186,"v":53.2},{"t":120,"f":7442,"v":51.2},{"t":120,"f":7706,"v":53.2},{"t":120,"f":7924,"v":52.5},{"t":120,"f":8149,"v":53.6},{"t":120,"f":8436,"v":51.2},{"t":120,"f":8737,"v":53.0},{"t":120,"f":9177,"v":52.1},{"t":120,"f":9568,"v":53.0},{"t":120,"f":10085,"v":54.1},{"t":120,"f":10474,"v":52.7},{"t":120,"f":10846,"v":52.3},{"t":120,"f":11390,"v":52.3},{"t":120,"f":11878,"v":49.9},{"t":120,"f":12219,"v":51.2},{"t":120,"f":12741,"v":50.7},{"t":120,"f":13380,"v":51.8},{"t":120,"f":14051,"v":49.0},{"t":120,"f":14961,"v":46.1},{"t":120,"f":15821,"v":45.2},{"t":120,"f":16965,"v":45.0},{"t":120,"f":17940,"v":44.5},{"t":120,"f":18971,"v":42.6},{"t":120,"f":19838,"v":41.2},{"t":120,"f":20000,"v":30},
{"t":140,"f":10,"v":30},{"t":140,"f":10.05,"v":65.6},{"t":140,"f":11.4,"v":62.0},{"t":140,"f":12.75,"v":58.0},{"t":140,"f":13.9,"v":56.9},{"t":140,"f":15.1,"v":63.8},{"t":140,"f":16.4,"v":68.2},{"t":140,"f":17.7,"v":69.3},{"t":140,"f":19.1,"v":68.2},{"t":140,"f":21.1,"v":58.0},{"t":140,"f":23.6,"v":51.4},{"t":140,"f":24.2,"v":51.6},{"t":140,"f":26.7,"v":47.7},{"t":140,"f":29.5,"v":54.7},{"t":140,"f":32.5,"v":41.5},{"t":140,"f":34.9,"v":41.9},{"t":140,"f":36.4,"v":40.1},{"t":140,"f":38.4,"v":45.9},{"t":140,"f":40.6,"v":45.0},{"t":140,"f":43.6,"v":49.6},{"t":140,"f":46.7,"v":60.0},{"t":140,"f":49.4,"v":59.4},{"t":140,"f":52.3,"v":52.5},{"t":140,"f":56.8,"v":52.7},{"t":140,"f":59.3,"v":56.1},{"t":140,"f":64.5,"v":44.8},{"t":140,"f":69.1,"v":41.2},{"t":140,"f":74.1,"v":35.7},{"t":140,"f":78.9,"v":44.1},{"t":140,"f":84.6,"v":48.5},{"t":140,"f":87.6,"v":49.6},{"t":140,"f":92,"v":42.4},{"t":140,"f":96,"v":45.2},{"t":140,"f":100.8,"v":44.8},{"t":140,"f":105.9,"v":46.8},{"t":140,"f":111.9,"v":45.5},{"t":140,"f":120.8,"v":42.8},{"t":140,"f":129.6,"v":46.4},{"t":140,"f":136.1,"v":49.0},{"t":140,"f":145,"v":47.0},{"t":140,"f":153.2,"v":38.2},{"t":140,"f":162,"v":41.9},{"t":140,"f":171.3,"v":49.6},{"t":140,"f":185,"v":40.4},{"t":140,"f":194.2,"v":47.4},{"t":140,"f":205.5,"v":45.5},{"t":140,"f":212.8,"v":43.0},{"t":140,"f":223.4,"v":47.0},{"t":140,"f":236.3,"v":39.7},{"t":140,"f":251.6,"v":31.7},{"t":140,"f":269.8,"v":43.0},{"t":140,"f":284.9,"v":38.6},{"t":140,"f":299.6,"v":39.3},{"t":140,"f":316.8,"v":42.6},{"t":140,"f":332.7,"v":36.4},{"t":140,"f":349.3,"v":40.1},{"t":140,"f":369.4,"v":36.8},{"t":140,"f":396.1,"v":32.4},{"t":140,"f":413.1,"v":32.8},{"t":140,"f":430.8,"v":29.5},{"t":140,"f":440,"v":34.6},{"t":140,"f":472,"v":38.2},{"t":140,"f":495,"v":32.4},{"t":140,"f":528,"v":36.1},{"t":140,"f":550,"v":35.7},{"t":140,"f":570,"v":36.8},{"t":140,"f":590,"v":35.3},{"t":140,"f":624,"v":43.5},{"t":140,"f":660,"v":31.3},{"t":140,"f":693,"v":35.3},{"t":140,"f":738,"v":39.0},{"t":140,"f":780,"v":40.4},{"t":140,"f":813,"v":36.4},{"t":140,"f":860,"v":39.0},{"t":140,"f":910,"v":35.3},{"t":140,"f":956,"v":38.2},{"t":140,"f":990,"v":36.4},{"t":140,"f":1017,"v":36.8},{"t":140,"f":1053,"v":41.9},{"t":140,"f":1106,"v":39.7},{"t":140,"f":1153,"v":39.3},{"t":140,"f":1203,"v":38.6},{"t":140,"f":1245,"v":41.8},{"t":140,"f":1290,"v":41.5},{"t":140,"f":1345,"v":42.4},{"t":140,"f":1383,"v":40.4},{"t":140,"f":1442,"v":46.8},{"t":140,"f":1504,"v":47.6},{"t":140,"f":1557,"v":44.6},{"t":140,"f":1601,"v":46.1},{"t":140,"f":1681,"v":44.6},{"t":140,"f":1779,"v":43.4},{"t":140,"f":1829,"v":40.8},{"t":140,"f":1907,"v":47.0},{"t":140,"f":1989,"v":47.9},{"t":140,"f":2074,"v":46.6},{"t":140,"f":2148,"v":45.2},{"t":140,"f":2240,"v":46.6},{"t":140,"f":2352,"v":47.9},{"t":140,"f":2418,"v":46.6},{"t":140,"f":2522,"v":44.6},{"t":140,"f":2611,"v":47.4},{"t":140,"f":2704,"v":47.0},{"t":140,"f":2800,"v":47.4},{"t":140,"f":2900,"v":43.4},{"t":140,"f":3016,"v":43.4},{"t":140,"f":3044,"v":42.4},{"t":140,"f":3196,"v":45.9},{"t":140,"f":3287,"v":44.6},{"t":140,"f":3404,"v":42.6},{"t":140,"f":3500,"v":44.8},{"t":140,"f":3599,"v":43.4},{"t":140,"f":3676,"v":44.0},{"t":140,"f":3807,"v":41.5},{"t":140,"f":3969,"v":44.5},{"t":140,"f":4110,"v":44.3},{"t":140,"f":4317,"v":45.2},{"t":140,"f":4596,"v":42.8},{"t":140,"f":4793,"v":46.5},{"t":140,"f":4929,"v":44.5},{"t":140,"f":5140,"v":45.7},{"t":140,"f":5359,"v":42.8},{"t":140,"f":5627,"v":45.4},{"t":140,"f":5869,"v":45.2},{"t":140,"f":6123,"v":43.8},{"t":140,"f":6385,"v":43.9},{"t":140,"f":6705,"v":44.8},{"t":140,"f":7136,"v":46.6},{"t":140,"f":7390,"v":45.4},{"t":140,"f":7760,"v":46.5},{"t":140,"f":7980,"v":45.7},{"t":140,"f":8149,"v":46.8},{"t":140,"f":8436,"v":45.2},{"t":140,"f":8737,"v":46.8},{"t":140,"f":9049,"v":45.5},{"t":140,"f":9370,"v":46.6},{"t":140,"f":9770,"v":46.6},{"t":140,"f":10115,"v":47.6},{"t":140,"f":10548,"v":46.3},{"t":140,"f":10999,"v":45.5},{"t":140,"f":11470,"v":45.4},{"t":140,"f":11878,"v":44.3},{"t":140,"f":12304,"v":44.5},{"t":140,"f":13287,"v":45.4},{"t":140,"f":13855,"v":43.5},{"t":140,"f":14549,"v":41.5},{"t":140,"f":15602,"v":39.5},{"t":140,"f":16269,"v":38.8},{"t":140,"f":16965,"v":39.4},{"t":140,"f":17940,"v":39.4},{"t":140,"f":18971,"v":38.4},{"t":140,"f":19838,"v":38.1},{"t":140,"f":20000,"v":30},
{"t":160,"f":10,"v":30},{"t":160,"f":10.05,"v":62.6},{"t":160,"f":11.4,"v":55.4},{"t":160,"f":12.2,"v":48.5},{"t":160,"f":13.1,"v":41.1},{"t":160,"f":13.9,"v":50.7},{"t":160,"f":15.1,"v":60.9},{"t":160,"f":16.4,"v":66.0},{"t":160,"f":17.8,"v":67.4},{"t":160,"f":19.4,"v":65.3},{"t":160,"f":21.4,"v":58.0},{"t":160,"f":23.2,"v":47.2},{"t":160,"f":24.8,"v":47.2},{"t":160,"f":26.7,"v":40.4},{"t":160,"f":29.1,"v":54.3},{"t":160,"f":33,"v":39.7},{"t":160,"f":35.6,"v":38.3},{"t":160,"f":37.9,"v":43.2},{"t":160,"f":40.4,"v":40.0},{"t":160,"f":43.6,"v":49.3},{"t":160,"f":46.7,"v":58.5},{"t":160,"f":49.4,"v":56.5},{"t":160,"f":52.6,"v":45.5},{"t":160,"f":55.6,"v":45.7},{"t":160,"f":59.3,"v":54.1},{"t":160,"f":64.9,"v":39.7},{"t":160,"f":67.2,"v":40.8},{"t":160,"f":69.1,"v":39.3},{"t":160,"f":74.1,"v":35.7},{"t":160,"f":78.4,"v":40.1},{"t":160,"f":86.4,"v":47.6},{"t":160,"f":89.5,"v":46.6},{"t":160,"f":92,"v":37.5},{"t":160,"f":95.3,"v":37.3},{"t":160,"f":99.4,"v":35.7},{"t":160,"f":105.9,"v":41.7},{"t":160,"f":111.9,"v":45.0},{"t":160,"f":117.5,"v":42.6},{"t":160,"f":123.4,"v":35.0},{"t":160,"f":129.6,"v":38.2},{"t":160,"f":135.2,"v":41.5},{"t":160,"f":143,"v":39.7},{"t":160,"f":151.1,"v":37.9},{"t":160,"f":156.5,"v":37.9},{"t":160,"f":162,"v":41.9},{"t":160,"f":171.3,"v":42.6},{"t":160,"f":178.7,"v":43.9},{"t":160,"f":186.3,"v":40.6},{"t":160,"f":196.9,"v":45.5},{"t":160,"f":205.5,"v":42.6},{"t":160,"f":214.3,"v":39.7},{"t":160,"f":221.9,"v":42.4},{"t":160,"f":236.3,"v":33.5},{"t":160,"f":253.4,"v":30.2},{"t":160,"f":269.8,"v":38.8},{"t":160,"f":284.9,"v":33.1},{"t":160,"f":297.5,"v":36.4},{"t":160,"f":321.3,"v":42.6},{"t":160,"f":337.4,"v":34.6},{"t":160,"f":351.8,"v":40.3},{"t":160,"f":369.4,"v":36.2},{"t":160,"f":396.1,"v":32.0},{"t":160,"f":424.8,"v":28.5},{"t":160,"f":440,"v":32.4},{"t":160,"f":472,"v":34.6},{"t":160,"f":495,"v":31.0},{"t":160,"f":517,"v":32.6},{"t":160,"f":543,"v":33.5},{"t":160,"f":570,"v":35.5},{"t":160,"f":590,"v":32.4},{"t":160,"f":624,"v":35.9},{"t":160,"f":664,"v":29.5},{"t":160,"f":693,"v":29.7},{"t":160,"f":718,"v":30.8},{"t":160,"f":738,"v":35.0},{"t":160,"f":780,"v":36.8},{"t":160,"f":813,"v":33.9},{"t":160,"f":848,"v":33.5},{"t":160,"f":878,"v":32.9},{"t":160,"f":910,"v":34.1},{"t":160,"f":956,"v":38.2},{"t":160,"f":990,"v":35.0},{"t":160,"f":1031,"v":36.8},{"t":160,"f":1076,"v":35.7},{"t":160,"f":1138,"v":35.0},{"t":160,"f":1186,"v":35.3},{"t":160,"f":1228,"v":33.7},{"t":160,"f":1290,"v":35.3},{"t":160,"f":1345,"v":36.1},{"t":160,"f":1383,"v":34.6},{"t":160,"f":1422,"v":38.6},{"t":160,"f":1463,"v":37.9},{"t":160,"f":1504,"v":41.4},{"t":160,"f":1557,"v":39.5},{"t":160,"f":1608,"v":41.4},{"t":160,"f":1681,"v":38.2},{"t":160,"f":1753,"v":37.9},{"t":160,"f":1791,"v":38.2},{"t":160,"f":1842,"v":35.5},{"t":160,"f":1907,"v":40.2},{"t":160,"f":1989,"v":40.8},{"t":160,"f":2074,"v":42.0},{"t":160,"f":2163,"v":39.7},{"t":160,"f":2271,"v":38.2},{"t":160,"f":2352,"v":41.4},{"t":160,"f":2487,"v":38.8},{"t":160,"f":2611,"v":41.5},{"t":160,"f":2704,"v":41.0},{"t":160,"f":2860,"v":40.6},{"t":160,"f":3016,"v":37.9},{"t":160,"f":3087,"v":36.8},{"t":160,"f":3264,"v":38.3},{"t":160,"f":3366,"v":36.5},{"t":160,"f":3490,"v":38.7},{"t":160,"f":3550,"v":37.6},{"t":160,"f":3650,"v":38.3},{"t":160,"f":3833,"v":36.1},{"t":160,"f":4053,"v":38.3},{"t":160,"f":4226,"v":37.2},{"t":160,"f":4469,"v":38.3},{"t":160,"f":4596,"v":37.6},{"t":160,"f":4793,"v":38.1},{"t":160,"f":4999,"v":39.4},{"t":160,"f":5175,"v":39.0},{"t":160,"f":5397,"v":37.2},{"t":160,"f":5747,"v":39.4},{"t":160,"f":6080,"v":38.1},{"t":160,"f":6296,"v":39.5},{"t":160,"f":6659,"v":39.5},{"t":160,"f":7136,"v":39.7},{"t":160,"f":7442,"v":39.5},{"t":160,"f":7706,"v":39.9},{"t":160,"f":8092,"v":40.4},{"t":160,"f":8318,"v":39.9},{"t":160,"f":8676,"v":41.2},{"t":160,"f":9049,"v":40.8},{"t":160,"f":9370,"v":42.1},{"t":160,"f":9702,"v":41.7},{"t":160,"f":10185,"v":42.6},{"t":160,"f":10622,"v":41.5},{"t":160,"f":11311,"v":40.6},{"t":160,"f":11796,"v":40.7},{"t":160,"f":12304,"v":40.3},{"t":160,"f":13287,"v":41.5},{"t":160,"f":13953,"v":40.8},{"t":160,"f":14348,"v":40.8},{"t":160,"f":14961,"v":38.3},{"t":160,"f":16156,"v":36.6},{"t":160,"f":17204,"v":37.3},{"t":160,"f":18192,"v":37.5},{"t":160,"f":19373,"v":37.9},{"t":160,"f":19838,"v":37.5},{"t":160,"f":20000,"v":30}
    ],
    "markers": [
      {"f":51.3,"v":36.8,"grp":"A"},{"f":70.4,"v":35.8,"grp":"B"},{"f":72.3,"v":34.8,"grp":"C"},
      {"f":87.2,"v":33.7,"grp":"D"},{"f":88.7,"v":33.7,"grp":"E"},{"f":101.2,"v":33.7,"grp":"F"},
      {"f":103,"v":36.8,"grp":"A"},{"f":113.4,"v":32.6,"grp":"G"},{"f":124.6,"v":33.7,"grp":"D"},
      {"f":126,"v":33.7,"grp":"E"},{"f":141.2,"v":35.8,"grp":"B"},{"f":143.5,"v":32.6,"grp":"G"},
      {"f":145.3,"v":34.8,"grp":"C"},{"f":150.7,"v":33.7,"grp":"D"},{"f":153.8,"v":36.8,"grp":"A"},
      {"f":158.3,"v":33.7,"grp":"F"},{"f":160.3,"v":33.7,"grp":"F"},{"f":166.8,"v":32.6,"grp":"G"},
      {"f":169.6,"v":33.7,"grp":"E"},{"f":174.2,"v":33.7,"grp":"D"},{"f":177,"v":33.7,"grp":"E"},
      {"f":183.3,"v":32.6,"grp":"G"},{"f":189.6,"v":32.6,"grp":"G"},{"f":191.6,"v":32.6,"grp":"G"}
    ],
    "legend": [
      {"t":0,"name":"C 7월 20","val":"77.8 dB","col":0,"row":0},
      {"t":20,"name":"20 ms","val":"77.3 dB","col":1,"row":0},
      {"t":40,"name":"40 ms","val":"75.5 dB","col":2,"row":0},
      {"t":60,"name":"60 ms","val":"71.9 dB","col":0,"row":1},
      {"t":80,"name":"80 ms","val":"66.4 dB","col":1,"row":1},
      {"t":100,"name":"100 ms","val":"60.0 dB","col":2,"row":1},
      {"t":120,"name":"120 ms","val":"53.9 dB","col":0,"row":2},
      {"t":140,"name":"140 ms","val":"47.4 dB","col":1,"row":2},
      {"t":160,"name":"160 ms","val":"42.3 dB","col":2,"row":2}
    ]
  },
  "vconcat": [
    {
      "width": 1813,
      "height": 931,
      "title": {
        "text": "Spectral Decay",
        "anchor": "middle",
        "frame": "group",
        "fontSize": 38,
        "fontWeight": "bold",
        "color": "#3f3f3f",
        "font": "Noto Sans",
        "baseline": "alphabetic",
        "offset": -105
      },
      "encoding": {
        "x": {
          "field": "f",
          "type": "quantitative",
          "scale": {"type": "log", "domain": [10, 20000], "nice": false},
          "axis": {
            "title": null,
            "values": [10,20,30,40,50,60,70,80,90,100,200,300,400,500,600,700,800,900,1000,2000,3000,4000,5000,6000,7000,8000,9000,10000,11000,12000,13000,14000,15000,16000,17000,18000,19000,20000],
            "labelExpr": "indexof([90,700,900,9000,11000,13000,14000,16000,17000,18000,19000], datum.value) >= 0 ? '' : datum.value == 20000 ? '20kHz' : datum.value >= 1000 ? (datum.value / 1000) + 'k' : '' + datum.value",
            "domain": false,
            "ticks": false,
            "tickSize": 0,
            "labelPadding": 11,
            "labelFontSize": 19,
            "labelFont": "Noto Sans",
            "labelColor": {"condition": {"test": "datum.value == 12000 || datum.value == 15000", "value": "#9a9a9a"}, "value": "#222222"},
            "labelFlush": false,
            "labelOverlap": false,
            "labelBound": false,
            "grid": true,
            "gridColor": {"condition": {"test": "datum.value == 100 || datum.value == 1000 || datum.value == 10000", "value": "#8c8c8c"}, "value": "#c8c8c8"},
            "gridWidth": 1
          }
        },
        "y": {
          "field": "v",
          "type": "quantitative",
          "scale": {"domain": [30, 100], "nice": false, "zero": false},
          "axis": {
            "title": "SPL",
            "titleAngle": 0,
            "titleAlign": "left",
            "titleBaseline": "middle",
            "titleX": -35,
            "titleY": -17,
            "titleFontSize": 18,
            "titleFontWeight": "normal",
            "titleFont": "Noto Sans",
            "titleColor": "#222222",
            "values": [30,31,32,33,34,35,36,37,38,39,40,41,42,43,44,45,46,47,48,49,50,51,52,53,54,55,56,57,58,59,60,61,62,63,64,65,66,67,68,69,70,71,72,73,74,75,76,77,78,79,80,81,82,83,84,85,86,87,88,89,90,91,92,93,94,95,96,97,98,99,100],
            "labelExpr": "datum.value % 5 == 0 && datum.value > 30 && datum.value < 100 ? datum.label : ''",
            "domain": false,
            "ticks": false,
            "tickSize": 0,
            "labelPadding": 4,
            "labelFontSize": 19,
            "labelFont": "Noto Sans",
            "labelColor": "#222222",
            "labelOverlap": false,
            "labelFlush": false,
            "grid": true,
            "gridColor": {"condition": {"test": "datum.value % 5 == 0", "value": "#c4c4c4"}, "value": "#e4e4e4"},
            "gridWidth": 1
          }
        }
      },
      "layer": [
        {
          "data": {"name": "curves"},
          "mark": {"type": "line", "strokeWidth": 3.2, "interpolate": "monotone", "clip": true, "strokeJoin": "round"},
          "encoding": {
            "color": {
              "field": "t",
              "type": "ordinal",
              "scale": {"domain": [0,20,40,60,80,100,120,140,160], "range": ["#ff0000","#e4001e","#c8003c","#ad005a","#910078","#760096","#5a00b4","#3f00d2","#2300f0"]},
              "legend": null
            }
          }
        },
        {
          "data": {"name": "markers"},
          "mark": {"type": "rule", "strokeWidth": 3},
          "encoding": {
            "y2": {"datum": 30},
            "stroke": {
              "field": "grp",
              "type": "nominal",
              "scale": {"domain": ["A","B","C","D","E","F","G"], "range": ["#c00000","#008000","#0000b4","#c89600","#c000c0","#00b4b4","#8c8c8c"]},
              "legend": null
            }
          }
        }
      ]
    },
    {
      "width": 1783.5,
      "height": 64,
      "data": {"name": "legend"},
      "encoding": {
        "x": {"field": "col", "type": "quantitative", "scale": {"domain": [0, 3], "nice": false, "zero": false}, "axis": null},
        "y": {"field": "row", "type": "ordinal", "scale": {"type": "point", "padding": 0}, "axis": null}
      },
      "layer": [
        {
          "mark": {"type": "text", "text": "☑", "dx": -56.7, "fontSize": 17, "font": "DejaVu Sans", "color": "#1a85ff", "align": "center", "baseline": "middle"}
        },
        {
          "transform": [{"filter": "datum.t == 0"}],
          "mark": {"type": "text", "dx": -44, "fontSize": 19.5, "font": "Noto Sans, Noto Sans CJK KR", "align": "left", "baseline": "middle"},
          "encoding": {
            "text": {"field": "name"},
            "color": {"field": "t", "type": "ordinal", "scale": {"domain": [0,20,40,60,80,100,120,140,160], "range": ["#ff0000","#e4001e","#c8003c","#ad005a","#910078","#760096","#5a00b4","#3f00d2","#2300f0"]}, "legend": null}
          }
        },
        {
          "transform": [{"filter": "datum.t > 0"}],
          "mark": {"type": "text", "dx": -28.7, "fontSize": 19.5, "font": "Noto Sans", "align": "left", "baseline": "middle"},
          "encoding": {
            "text": {"field": "name"},
            "color": {"field": "t", "type": "ordinal", "scale": {"domain": [0,20,40,60,80,100,120,140,160], "range": ["#ff0000","#e4001e","#c8003c","#ad005a","#910078","#760096","#5a00b4","#3f00d2","#2300f0"]}, "legend": null}
          }
        },
        {
          "mark": {"type": "rule", "strokeWidth": 4, "xOffset": 260.3, "x2Offset": 349.3},
          "encoding": {
            "x2": {"field": "col"},
            "color": {"field": "t", "type": "ordinal", "scale": {"domain": [0,20,40,60,80,100,120,140,160], "range": ["#ff0000","#e4001e","#c8003c","#ad005a","#910078","#760096","#5a00b4","#3f00d2","#2300f0"]}, "legend": null}
          }
        },
        {
          "mark": {"type": "text", "dx": 491.3, "fontSize": 19.5, "font": "Noto Sans", "align": "right", "baseline": "middle"},
          "encoding": {
            "text": {"field": "val"},
            "color": {"field": "t", "type": "ordinal", "scale": {"domain": [0,20,40,60,80,100,120,140,160], "range": ["#ff0000","#e4001e","#c8003c","#ad005a","#910078","#760096","#5a00b4","#3f00d2","#2300f0"]}, "legend": null}
          }
        }
      ]
    }
  ]
}
